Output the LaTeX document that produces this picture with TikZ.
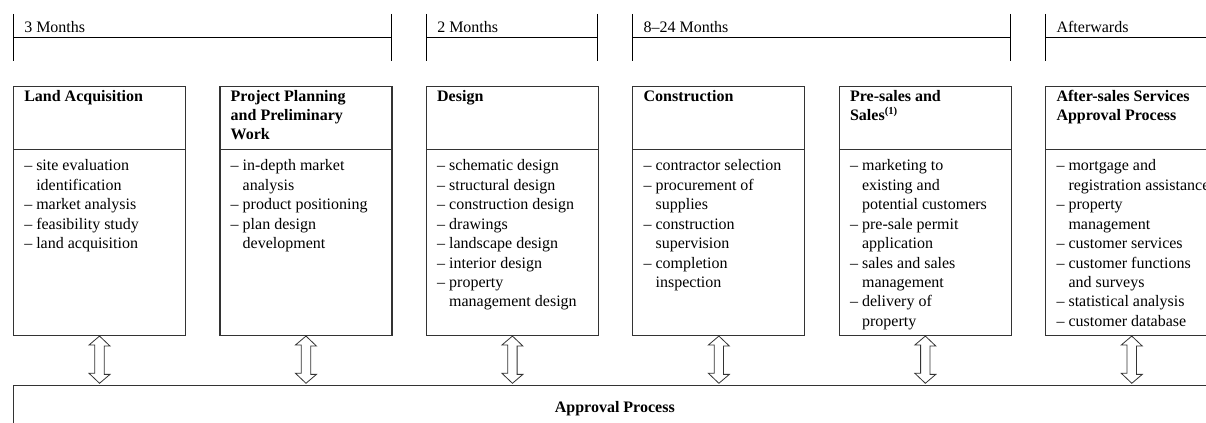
\documentclass[tikz,border=0pt]{standalone}
\usepackage{fontspec}
\setmainfont{Liberation Serif}
\usetikzlibrary{calc}
\newcommand{\lst}[1]{{\renewcommand{\arraystretch}{1}\begin{tabular}[t]{@{}l@{}}#1\end{tabular}}}
\newcommand{\hi}{\hspace*{9pt}}
\begin{document}
\begin{tikzpicture}[x=0.75pt,y=-0.75pt,
  box/.style={draw=black!80, line width=0.8pt, minimum width=129pt, minimum height=186.75pt, inner sep=0pt, anchor=north west},
  apbox/.style={draw=black!80, line width=0.8pt, minimum width=902.8pt, minimum height=60pt, inner sep=0pt, anchor=north west},
  brk/.style={draw=black, line width=0.7pt},
  ttl/.style={font=\fontsize{12}{14.3}\selectfont\bfseries, inner sep=0pt, anchor=base west},
  itm/.style={font=\fontsize{12}{14.6}\selectfont, inner sep=0pt, anchor=base west},
  per/.style={font=\fontsize{12}{14.5}\selectfont, inner sep=0pt, anchor=base west},
  arr/.style={draw=black!80, line width=0.6pt, fill=white, line join=miter}
]
\useasboundingbox (0,0) rectangle (1206,423);
\clip (0,0) rectangle (1206,423);

% period brackets
\coordinate (p1a) at (13,37);   \coordinate (p1b) at (391,37);
\coordinate (p2a) at (426,37);  \coordinate (p2b) at (597.7,37);
\coordinate (p3a) at (632.3,37);\coordinate (p3b) at (1010.7,37);
\coordinate (p4a) at (1045.3,37);\coordinate (p4b) at (1220,37);
\foreach \a/\b in {p1a/p1b,p2a/p2b,p3a/p3b,p4a/p4b}{
  \draw[brk] (\a) -- (\b);
  \draw[brk] ([yshift=17.25pt]\a) -- ([yshift=-18pt]\a);
  \draw[brk] ([yshift=17.25pt]\b) -- ([yshift=-18pt]\b);
}
\node[per] (t1) at (24,33) {3 Months};
\node[per] (t2) at (437,33) {2 Months};
\node[per] (t3) at (643.3,33) {8–24 Months};
\node[per] (t4) at (1056.3,33) {Afterwards};

% boxes
\node[box] (b1) at (13,86) {};
\node[box] (b2) at (219.45,86) {};
\node[box] (b3) at (425.9,86) {};
\node[box] (b4) at (632.35,86) {};
\node[box] (b5) at (838.8,86) {};
\node[box] (b6) at (1045.25,86) {};
\foreach \b in {b1,b2,b3,b4,b5,b6}{
  \draw[draw=black!80, line width=0.8pt] (\b.west |- 0,149.7) -- (\b.east |- 0,149.7);
}

% headers
\node[ttl] (h1) at (24,101.7) {\lst{Land Acquisition}};
\node[ttl] (h2) at (230.45,101.7) {\lst{Project Planning\\and Preliminary\\Work}};
\node[ttl] (h3) at (436.9,101.7) {\lst{Design}};
\node[ttl] (h4) at (643.35,101.7) {\lst{Construction}};
\node[ttl] (h5) at (849.8,101.7) {\lst{Pre-sales and\\Sales\textsuperscript{(1)}}};
\node[ttl] (h6) at (1056.25,101.7) {\lst{After-sales Services\\Approval Process}};

% lists
\node[itm] (l1) at (24,170.7) {\lst{– site evaluation\\\hi identification\\– market analysis\\– feasibility study\\– land acquisition}};
\node[itm] (l2) at (230.45,170.7) {\lst{– in-depth market\\\hi analysis\\– product positioning\\– plan design\\\hi development}};
\node[itm] (l3) at (436.9,170.7) {\lst{– schematic design\\– structural design\\– construction design\\– drawings\\– landscape design\\– interior design\\– property\\\hi management design}};
\node[itm] (l4) at (643.35,170.7) {\lst{– contractor selection\\– procurement of\\\hi supplies\\– construction\\\hi supervision\\– completion\\\hi inspection}};
\node[itm] (l5) at (849.8,170.7) {\lst{– marketing to\\\hi existing and\\\hi potential customers\\– pre-sale permit\\\hi application\\– sales and sales\\\hi management\\– delivery of\\\hi property}};
\node[itm] (l6) at (1056.25,170.7) {\lst{– mortgage and\\\hi registration assistance\\– property\\\hi management\\– customer services\\– customer functions\\\hi and surveys\\– statistical analysis\\– customer database}};

% approval process
\node[apbox] (ap) at (13,385) {};
\node[font=\fontsize{12}{14.5}\selectfont\bfseries, inner sep=0pt, anchor=base] (apt) at (614.8,413) {Approval Process};

% hollow double arrows
\foreach \b in {b1,b2,b3,b4,b5,b6}{
  \draw[arr] (\b.south) -- ++(10.5,10) -- ++(-5.8,0) -- ++(0,28.3) -- ++(5.8,0)
    -- ($(\b.south |- ap.north)+(0,-1.7)$) -- ++(-10.5,-10) -- ++(5.8,0) -- ++(0,-28.3) -- ++(-5.8,0) -- cycle;
}
\end{tikzpicture}
\end{document}
